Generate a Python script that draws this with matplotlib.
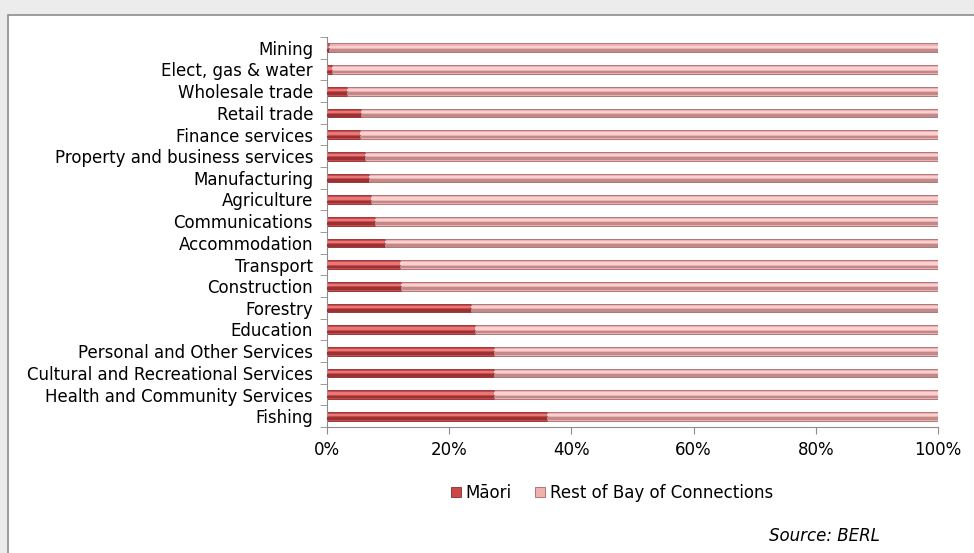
import numpy as np
import matplotlib.pyplot as plt
from matplotlib.patches import Rectangle

plt.rcParams['font.family'] = ['DejaVu Sans']

categories = ['Mining', 'Elect, gas & water', 'Wholesale trade', 'Retail trade',
              'Finance services', 'Property and business services', 'Manufacturing',
              'Agriculture', 'Communications', 'Accommodation', 'Transport',
              'Construction', 'Forestry', 'Education', 'Personal and Other Services',
              'Cultural and Recreational Services', 'Health and Community Services',
              'Fishing']
maori = [0.3, 0.9, 3.3, 5.5, 5.4, 6.3, 6.9, 7.2, 7.9, 9.5, 11.9, 12.1,
         23.6, 24.2, 27.3, 27.4, 27.4, 36.0]
rest = [100 - m for m in maori]

fs = 12
fig = plt.figure(figsize=(9.74, 5.53), dpi=100)
fig.patch.set_facecolor('#ececec')
# white chart box with border
fig.patches.append(Rectangle((8 / 974, -0.1), 1.0, 1 - 15 / 553 + 0.1,
                             transform=fig.transFigure, facecolor='white',
                             edgecolor='#8c8c8c', linewidth=1.2, zorder=-10))

ax = fig.add_axes([327 / 974, 1 - 427 / 553, 611 / 974, 390 / 553])
ax.set_facecolor('none')
ax.set_zorder(5)

y = np.arange(len(categories))[::-1]
h = 0.4
ax.barh(y, maori, height=h, color='#c9484a', edgecolor='#8e2a2c', linewidth=0.6,
        label='Māori', zorder=2)
ax.barh(y, rest, left=maori, height=h, color='#f0b0b0', edgecolor='#a06868',
        linewidth=0.6, label='Rest of Bay of Connections', zorder=2)
# highlight / shade strips for a bevelled look
ax.barh(y + h * 0.12, maori, height=h * 0.24, color='#e87878', linewidth=0, zorder=3)
ax.barh(y + h * 0.12, rest, left=maori, height=h * 0.24, color='#fbd0d0',
        linewidth=0, zorder=3)
ax.barh(y - h * 0.3, maori, height=h * 0.3, color='#9a3234', linewidth=0, zorder=3)
ax.barh(y - h * 0.3, rest, left=maori, height=h * 0.3, color='#c08a8a',
        linewidth=0, zorder=3)

ax.set_xlim(0, 100)
ax.set_ylim(-0.5, len(categories) - 0.5)
ax.set_xticks([0, 20, 40, 60, 80, 100])
ax.set_xticklabels(['0%', '20%', '40%', '60%', '80%', '100%'], fontsize=fs)
ax.set_yticks(y)
ax.set_yticklabels(categories, fontsize=fs)
ax.set_yticks(np.arange(len(categories) + 1) - 0.5, minor=True)
ax.tick_params(axis='y', which='major', length=0, pad=10)
ax.tick_params(axis='y', which='minor', length=5, color='#8c8c8c', direction='out')
ax.tick_params(axis='x', length=5, color='#8c8c8c', direction='out', pad=5)
for s in ['top', 'right']:
    ax.spines[s].set_visible(False)
for s in ['left', 'bottom']:
    ax.spines[s].set_color('#8c8c8c')

handles, labels = ax.get_legend_handles_labels()
fig.legend(handles, labels, loc='center', bbox_to_anchor=(612 / 974, 1 - 493 / 553),
           ncol=2, frameon=False, fontsize=fs, handlelength=0.6, handleheight=0.6,
           handletextpad=0.3, columnspacing=1.4)
fig.text(880 / 974, 1 - 536 / 553, 'Source: BERL', style='italic', fontsize=fs,
         ha='right', va='center')

fig.savefig('out.png', dpi=100, facecolor=fig.get_facecolor())
